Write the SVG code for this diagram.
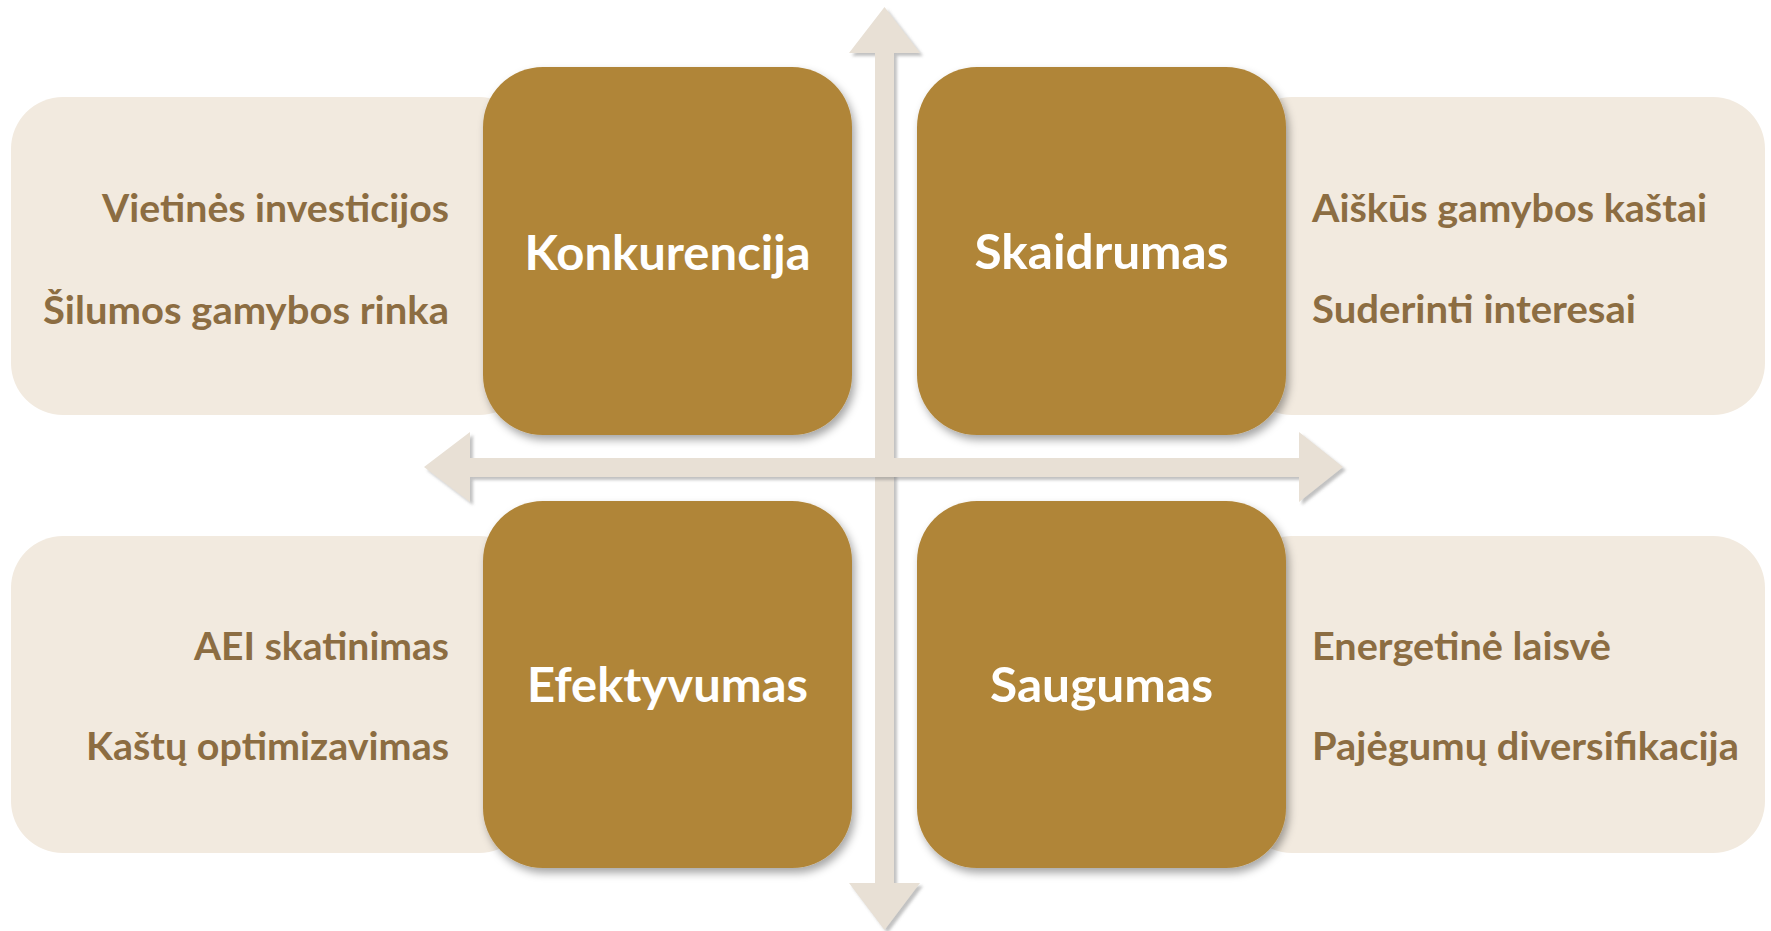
<svg xmlns="http://www.w3.org/2000/svg" width="1771" height="931" viewBox="0 0 1771 931">
<style>
.bg{fill:#F2EADF}
.gold{fill:#B08538;filter:url(#sh)}
.arrow{fill:#E8E0D5;filter:url(#ash)}
.item{font-family:Lato,"Open Sans",sans-serif;font-weight:bold;font-size:39px;fill:#8C6D42}
.title{font-family:Lato,"Open Sans",sans-serif;font-weight:bold;font-size:47px;fill:#FFFFFF;text-anchor:middle}
</style>
<defs>
<filter id="sh" x="-10%" y="-10%" width="130%" height="130%">
<feDropShadow dx="3" dy="5" stdDeviation="4" flood-color="#000" flood-opacity="0.35"/>
</filter>
<filter id="ash" x="-10%" y="-10%" width="130%" height="130%">
<feDropShadow dx="3" dy="3" stdDeviation="1.5" flood-color="#777" flood-opacity="0.45"/>
</filter>
</defs>
<rect width="1771" height="931" fill="#FFFFFF"/>
<g id="connectors">
<polygon class="arrow" points="884.5,7 920,53 894,53 894,883 920,883 884.5,930 849,883 875,883 875,53 849,53"/>
<polygon class="arrow" points="424,467 470,432 470,458 1299,458 1299,432 1343,467 1299,502 1299,477 470,477 470,502"/>
</g>
<g id="konkurencija">
<rect class="bg" x="11" y="97" width="520" height="318" rx="52" ry="52"/>
<rect class="gold" x="483" y="67" width="369" height="368" rx="60" ry="60"/>
<text class="item" x="449" y="222" text-anchor="end" textLength="347" lengthAdjust="spacingAndGlyphs">Vietinės investicijos</text>
<text class="item" x="449" y="324" text-anchor="end" textLength="406" lengthAdjust="spacingAndGlyphs">Šilumos gamybos rinka</text>
<text class="title" x="667.5" y="270" textLength="286" lengthAdjust="spacingAndGlyphs">Konkurencija</text>
</g>
<g id="skaidrumas">
<rect class="bg" x="1240" y="97" width="525" height="318" rx="52" ry="52"/>
<rect class="gold" x="917" y="67" width="369" height="368" rx="60" ry="60"/>
<text class="item" x="1312" y="222" textLength="395" lengthAdjust="spacingAndGlyphs">Aiškūs gamybos kaštai</text>
<text class="item" x="1312" y="323" textLength="324" lengthAdjust="spacingAndGlyphs">Suderinti interesai</text>
<text class="title" x="1101.5" y="269" textLength="254" lengthAdjust="spacingAndGlyphs">Skaidrumas</text>
</g>
<g id="efektyvumas">
<rect class="bg" x="11" y="536" width="520" height="317" rx="52" ry="52"/>
<rect class="gold" x="483" y="501" width="369" height="367" rx="60" ry="60"/>
<text class="item" x="449" y="660" text-anchor="end" textLength="255" lengthAdjust="spacingAndGlyphs">AEI skatinimas</text>
<text class="item" x="449" y="760" text-anchor="end" textLength="363" lengthAdjust="spacingAndGlyphs">Kaštų optimizavimas</text>
<text class="title" x="667.5" y="702" textLength="281" lengthAdjust="spacingAndGlyphs">Efektyvumas</text>
</g>
<g id="saugumas">
<rect class="bg" x="1240" y="536" width="525" height="317" rx="52" ry="52"/>
<rect class="gold" x="917" y="501" width="369" height="367" rx="60" ry="60"/>
<text class="item" x="1312" y="660" textLength="299" lengthAdjust="spacingAndGlyphs">Energetinė laisvė</text>
<text class="item" x="1312" y="760" textLength="427" lengthAdjust="spacingAndGlyphs">Pajėgumų diversifikacija</text>
<text class="title" x="1101.5" y="702" textLength="223" lengthAdjust="spacingAndGlyphs">Saugumas</text>
</g>
</svg>
